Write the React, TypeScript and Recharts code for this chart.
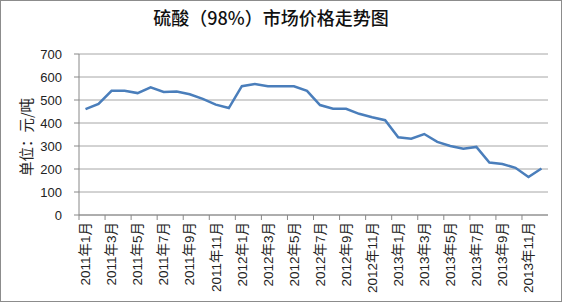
import { LineChart, Line, XAxis, YAxis, CartesianGrid } from 'recharts';

const months = [
  '2011年1月', '2011年2月', '2011年3月', '2011年4月', '2011年5月', '2011年6月',
  '2011年7月', '2011年8月', '2011年9月', '2011年10月', '2011年11月', '2011年12月',
  '2012年1月', '2012年2月', '2012年3月', '2012年4月', '2012年5月', '2012年6月',
  '2012年7月', '2012年8月', '2012年9月', '2012年10月', '2012年11月', '2012年12月',
  '2013年1月', '2013年2月', '2013年3月', '2013年4月', '2013年5月', '2013年6月',
  '2013年7月', '2013年8月', '2013年9月', '2013年10月', '2013年11月', '2013年12月',
];

const prices = [
  460, 483, 540, 540, 530, 555, 535, 537, 525, 505, 480, 465,
  560, 570, 560, 560, 560, 540, 478, 462, 462, 440, 425, 412,
  338, 332, 352, 318, 300, 288, 296, 228, 222, 205, 165, 202,
];

const yTicks = [0, 100, 200, 300, 400, 500, 600, 700];

const data = months.map((m, i) => ({ name: m, price: prices[i] }));

const FONT = '"Liberation Sans", "Noto Sans CJK SC", sans-serif';
const HALF_BAND = 6.5;

function MonthTick(props: any) {
  const { x, y, payload, index } = props;
  return (
    <g>
      <line x1={x - HALF_BAND} y1={y} x2={x - HALF_BAND} y2={y + 5} stroke="#888" />
      {index === 34 && (
        <line x1={x + HALF_BAND * 3} y1={y} x2={x + HALF_BAND * 3} y2={y + 5} stroke="#888" />
      )}
      <text
        x={x}
        y={y + 7}
        transform={`rotate(-90, ${x}, ${y + 7})`}
        textAnchor="end"
        dy="0.35em"
        fontSize={13.5}
        fontFamily={FONT}
        fill="#222"
      >
        {payload.value}
      </text>
    </g>
  );
}

export default function App() {
  return (
    <div
      style={{
        position: 'absolute',
        left: 0,
        top: 0,
        width: 560,
        height: 300,
        border: '1px solid #8c8c8c',
        background: '#fff',
      }}
    >
      <div
        style={{
          position: 'absolute',
          left: 0,
          width: 540,
          top: 5,
          textAlign: 'center',
          fontFamily: '"Noto Sans CJK SC", sans-serif',
          fontSize: 18,
          fontWeight: 500,
          color: '#111',
          lineHeight: '22px',
        }}
      >
        硫酸（98%）市场价格走势图
      </div>
      <div
        style={{
          position: 'absolute',
          left: 24,
          top: 136,
          transform: 'translate(-50%, -50%) rotate(-90deg)',
          whiteSpace: 'nowrap',
          fontFamily: '"Noto Sans CJK SC", sans-serif',
          fontSize: 14.5,
          color: '#222',
        }}
      >
        单位：元/吨
      </div>
      <LineChart
        width={560}
        height={300}
        data={data}
        margin={{ top: 53, right: 13, bottom: 0, left: 0 }}
      >
        <CartesianGrid vertical={false} stroke="#a6a6a6" />
        <XAxis
          dataKey="name"
          interval={1}
          height={86}
          stroke="#888"
          padding={{ left: HALF_BAND, right: HALF_BAND }}
          tickLine={false}
          tickSize={0}
          tickMargin={0}
          tick={<MonthTick />}
        />
        <YAxis
          width={78}
          domain={[0, 700]}
          ticks={yTicks}
          stroke="#888"
          tickSize={5}
          tickMargin={12}
          tick={{ fontSize: 13, fontFamily: FONT, fill: '#222' }}
        />
        <Line
          type="linear"
          dataKey="price"
          stroke="#4a7ebb"
          strokeWidth={2.5}
          dot={false}
          isAnimationActive={false}
        />
      </LineChart>
    </div>
  );
}
